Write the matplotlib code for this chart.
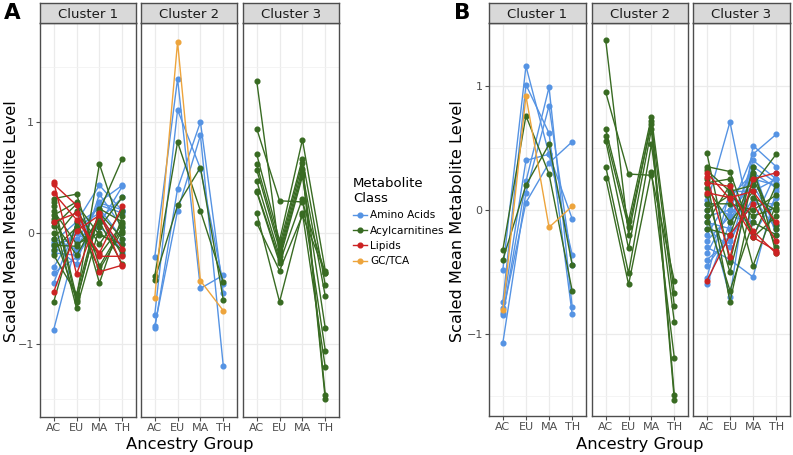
import matplotlib.pyplot as plt
from matplotlib.lines import Line2D

# x categories
groups = ["AC", "EU", "MA", "TH"]
clusters = ["Cluster 1", "Cluster 2", "Cluster 3"]
classes = ["Amino Acids", "Acylcarnitines", "Lipids", "GC/TCA"]
class_colors = ["#5593e3", "#386b22", "#cc2222", "#eda43c"]

# ---- panel A, one row per metabolite: AC, EU, MA, TH ----
a_c1_amino = [
    [-0.05, -0.15, 0.28, 0.43],
    [-0.08, 0.10, 0.43, 0.20],
    [-0.12, -0.28, 0.35, 0.05],
    [-0.15, 0.00, 0.25, 0.18],
    [-0.18, -0.20, 0.08, 0.42],
    [-0.31, 0.05, 0.18, -0.18],
    [-0.36, -0.22, 0.12, 0.32],
    [-0.45, 0.08, 0.22, -0.05],
    [-0.87, -0.08, 0.27, 0.21],
    [-0.10, -0.05, 0.05, -0.10],
]
a_c1_acyl = [
    [0.31, 0.35, -0.30, 0.05],
    [0.28, -0.58, 0.62, 0.00],
    [0.24, -0.62, 0.20, 0.67],
    [0.16, 0.28, -0.45, 0.15],
    [0.13, -0.68, 0.05, 0.32],
    [0.06, 0.26, -0.02, -0.10],
    [0.00, -0.60, 0.18, -0.05],
    [-0.05, 0.20, -0.10, 0.20],
    [-0.11, -0.12, 0.10, -0.28],
    [-0.20, -0.55, 0.22, 0.10],
    [-0.62, 0.10, -0.33, 0.02],
    [0.20, -0.10, 0.00, -0.15],
    [0.10, -0.20, 0.15, -0.20],
    [-0.15, 0.05, -0.20, 0.08],
]
a_c1_lipid = [
    [0.46, -0.37, 0.18, -0.30],
    [0.44, 0.25, -0.35, -0.29],
    [0.36, 0.12, -0.18, 0.24],
    [0.10, 0.18, -0.21, -0.21],
    [-0.53, 0.02, 0.16, -0.14],
]
a_c2_amino = [
    [-0.22, 1.39, -0.50, -0.38],
    [-0.74, 1.11, 0.58, -0.46],
    [-0.86, 0.40, 1.00, -0.54],
    [-0.84, 0.20, 0.88, -1.20],
]
a_c2_acyl = [
    [-0.39, 0.82, 0.20, -0.44],
    [-0.42, 0.25, 0.59, -0.60],
]
a_c2_gctca = [
    [-0.59, 1.72, -0.43, -0.70],
]
a_c3_acyl = [
    [1.37, -0.18, 0.58, -1.50],
    [0.94, 0.29, 0.28, -0.36],
    [0.71, -0.07, 0.84, -0.34],
    [0.62, -0.11, 0.67, -0.47],
    [0.57, -0.15, 0.63, -1.46],
    [0.47, -0.21, 0.54, -0.57],
    [0.38, -0.24, 0.51, -0.86],
    [0.37, -0.27, 0.31, -1.06],
    [0.18, -0.62, 0.18, -1.21],
    [0.09, -0.34, 0.16, -0.36],
]

# ---- panel B ----
b_c1_amino = [
    [-0.48, 1.16, 0.45, -0.36],
    [-0.74, 1.01, 0.62, -0.84],
    [-0.79, 0.40, 0.45, -0.07],
    [-0.85, 0.23, 0.99, -0.78],
    [-1.07, 0.14, 0.84, -0.44],
    [-0.83, 0.06, 0.38, 0.55],
]
b_c1_acyl = [
    [-0.32, 0.76, 0.29, -0.65],
    [-0.40, 0.20, 0.53, -0.44],
]
b_c1_gctca = [
    [-0.81, 0.92, -0.14, 0.03],
]
b_c2_acyl = [
    [1.37, -0.20, 0.72, -1.49],
    [0.95, 0.29, 0.28, -0.57],
    [0.65, -0.09, 0.75, -0.67],
    [0.60, -0.14, 0.69, -0.77],
    [0.56, -0.31, 0.65, -1.53],
    [0.35, -0.51, 0.53, -0.90],
    [0.26, -0.60, 0.31, -1.19],
]
b_c3_amino = [
    [0.05, 0.71, -0.20, 0.10],
    [0.00, -0.70, 0.52, 0.35],
    [-0.05, 0.00, 0.45, 0.61],
    [-0.10, -0.15, 0.40, 0.25],
    [-0.15, -0.30, 0.35, 0.22],
    [-0.20, 0.10, 0.30, 0.18],
    [-0.25, -0.05, 0.25, 0.20],
    [-0.30, -0.40, -0.54, 0.15],
    [-0.35, 0.00, 0.20, -0.12],
    [-0.45, -0.20, 0.05, 0.05],
    [-0.60, -0.10, 0.35, -0.20],
    [-0.55, 0.15, 0.15, 0.25],
    [-0.40, -0.25, 0.10, -0.15],
    [0.08, -0.05, -0.10, 0.30],
]
b_c3_acyl = [
    [0.46, -0.42, 0.35, -0.35],
    [0.35, 0.31, -0.22, 0.20],
    [0.32, 0.15, 0.20, 0.45],
    [0.25, -0.74, 0.10, 0.00],
    [0.22, 0.25, -0.45, 0.05],
    [0.12, -0.50, 0.25, -0.12],
    [0.05, 0.05, 0.00, 0.12],
    [-0.05, -0.65, -0.10, -0.20],
    [-0.10, 0.20, -0.22, -0.05],
    [0.18, -0.10, 0.15, -0.30],
    [0.00, 0.12, -0.05, 0.02],
    [-0.15, -0.20, 0.30, -0.15],
]
b_c3_lipid = [
    [0.30, 0.09, -0.22, -0.33],
    [0.27, -0.38, 0.25, 0.30],
    [0.22, 0.19, -0.17, -0.35],
    [0.14, 0.10, 0.15, -0.10],
    [-0.57, -0.20, 0.05, -0.25],
]

panel_a = [
    {"Amino Acids": a_c1_amino, "Acylcarnitines": a_c1_acyl, "Lipids": a_c1_lipid},
    {"Amino Acids": a_c2_amino, "Acylcarnitines": a_c2_acyl, "GC/TCA": a_c2_gctca},
    {"Acylcarnitines": a_c3_acyl},
]
panel_b = [
    {"Amino Acids": b_c1_amino, "Acylcarnitines": b_c1_acyl, "GC/TCA": b_c1_gctca},
    {"Acylcarnitines": b_c2_acyl},
    {"Amino Acids": b_c3_amino, "Acylcarnitines": b_c3_acyl, "Lipids": b_c3_lipid},
]

W, H = 793, 455
fig = plt.figure(figsize=(W / 100, H / 100), dpi=100)


def px_axes(x0, x1, y0, y1):
    return fig.add_axes([x0 / W, 1 - y1 / H, (x1 - x0) / W, (y1 - y0) / H])


def draw_facet(ax, data, ylim, show_y):
    for cls, col in zip(classes, class_colors):
        for row in data.get(cls, []):
            ax.plot(range(len(groups)), row, color=col, lw=1.0, marker="o",
                    ms=3.4, zorder=3)
    ax.set_xlim(-0.6, 3.6)
    ax.set_ylim(*ylim)
    ax.set_xticks(range(len(groups)))
    ax.set_xticklabels(groups)
    ax.set_yticks([-1, 0, 1])
    ax.set_yticks([-1.5, -0.5, 0.5, 1.5], minor=True)
    ax.set_yticklabels(["\u22121", "0", "1"])
    ax.grid(True, which="major", color="#ebebeb", lw=0.9, zorder=0)
    ax.grid(True, which="minor", axis="y", color="#f2f2f2", lw=0.6, zorder=0)
    ax.tick_params(axis="both", which="major", labelsize=8, colors="#4d4d4d",
                   length=3, width=0.8, pad=1.5)
    ax.tick_params(axis="y", which="minor", length=0)
    if not show_y:
        ax.tick_params(axis="y", which="major", labelleft=False, left=False)
    for s in ax.spines.values():
        s.set_color("#4d4d4d")
        s.set_linewidth(1.0)
    ax.set_axisbelow(True)


def draw_strip(x0, x1, label):
    sax = px_axes(x0, x1, 3, 23)
    sax.set_facecolor("#d9d9d9")
    sax.set_xticks([])
    sax.set_yticks([])
    for s in sax.spines.values():
        s.set_color("#4d4d4d")
        s.set_linewidth(1.0)
    sax.text(0.5, 0.45, label, ha="center", va="center", fontsize=9.5,
             color="#1a1a1a", transform=sax.transAxes)


a_x = [(40, 136), (141, 237), (243, 339)]
b_x = [(489, 586), (592, 688), (693, 790)]
a_ylim = (-1.658, 1.892)
b_ylim = (-1.661, 1.508)

for i, (x0, x1) in enumerate(a_x):
    ax = px_axes(x0, x1, 23, 417)
    draw_facet(ax, panel_a[i], a_ylim, i == 0)
    draw_strip(x0, x1, clusters[i])

for i, (x0, x1) in enumerate(b_x):
    ax = px_axes(x0, x1, 23, 416)
    draw_facet(ax, panel_b[i], b_ylim, i == 0)
    draw_strip(x0, x1, clusters[i])

# axis titles
fig.text(12 / W, 1 - 221 / H, "Scaled Mean Metabolite Level", rotation=90,
         ha="center", va="center", fontsize=11.6)
fig.text(457 / W, 1 - 221 / H, "Scaled Mean Metabolite Level", rotation=90,
         ha="center", va="center", fontsize=11.6)
fig.text(190 / W, 1 - 445 / H, "Ancestry Group", ha="center", va="center",
         fontsize=11.8)
fig.text(640 / W, 1 - 445 / H, "Ancestry Group", ha="center", va="center",
         fontsize=11.8)

# panel letters
fig.text(12 / W, 1 - 13 / H, "A", ha="center", va="center", fontsize=15.5,
         fontweight="bold")
fig.text(462 / W, 1 - 13 / H, "B", ha="center", va="center", fontsize=15.5,
         fontweight="bold")

# legend
handles = [Line2D([0], [0], color=c, lw=1.0, marker="o", ms=3.4)
           for c in class_colors]
leg = fig.legend(handles, classes, title="Metabolite\nClass", loc="upper left",
                 bbox_to_anchor=(349 / W, 1 - 173 / H), frameon=False,
                 fontsize=7.6, title_fontsize=9.5, handlelength=1.3,
                 handletextpad=0.3, labelspacing=0.5, borderaxespad=0)
leg._legend_box.align = "left"

fig.savefig("out.png", dpi=100)
